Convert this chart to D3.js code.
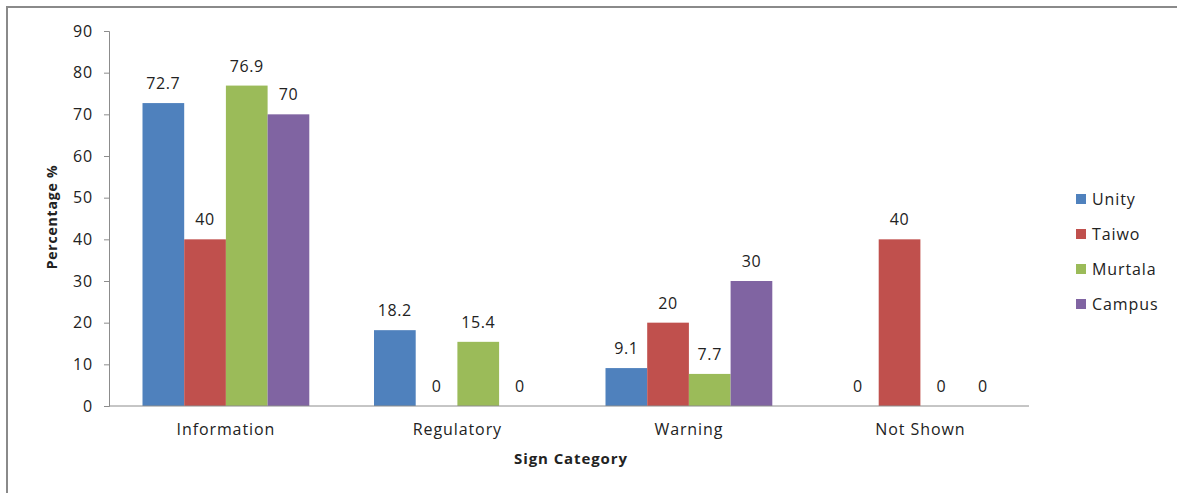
<!DOCTYPE html>
<html><head><meta charset="utf-8">
<script src="https://cdn.jsdelivr.net/npm/d3@7"></script>
<style>body{margin:0;background:#fff}svg{display:block}text{font-family:"Open Sans",sans-serif;fill:#222}</style>
</head><body><svg id="c" width="1177" height="493"></svg>
<script>
const categories = ["Information","Regulatory","Warning","Not Shown"];
const seriesNames = ["Unity","Taiwo","Murtala","Campus"];
const unity = [72.7, 18.2, 9.1, 0];
const taiwo = [40, 0, 20, 40];
const murtala = [76.9, 15.4, 7.7, 0];
const campus = [70, 0, 30, 0];
const yTicks = [0,10,20,30,40,50,60,70,80,90];
const colors = ["#4F81BD","#C0504D","#9BBB59","#8064A2"];
const values = [unity, taiwo, murtala, campus];

const svg = d3.select("#c");
svg.append("path").attr("d","M7,493 V7 H1177").attr("fill","none").attr("stroke","#8a8a8a").attr("stroke-width",2);

const x0 = 109, x1 = 1035, yTop = 31, yBot = 406;
const x = d3.scaleBand().domain(categories).range([x0, x1]).paddingInner(0).paddingOuter(0);
const xi = d3.scaleBand().domain(seriesNames).range([33.5, 33.5 + 4*41.7]);
const y = d3.scaleLinear().domain([0,90]).range([yBot, yTop]);

const ya = svg.append("g").attr("transform",`translate(${x0},0)`)
  .call(d3.axisLeft(y).tickValues(yTicks).tickSize(5).tickPadding(11));
ya.select(".domain").attr("stroke","#8c8c8c");
ya.selectAll(".tick line").attr("stroke","#8c8c8c");
ya.selectAll(".tick text").attr("font-size",16).attr("letter-spacing","0.9px").attr("fill","#222").attr("font-family","Open Sans");

const data = [];
categories.forEach((c,ci)=>seriesNames.forEach((s,si)=>data.push({c,s,v:values[si][ci],si})));
svg.append("g").selectAll("rect").data(data).join("rect")
  .attr("x",d=>x(d.c)+xi(d.s)).attr("width",xi.bandwidth())
  .attr("y",d=>y(d.v)).attr("height",d=>y(0)-y(d.v))
  .attr("fill",d=>colors[d.si]);

svg.append("line").attr("x1",x0).attr("x2",1029).attr("y1",yBot).attr("y2",yBot).attr("stroke","#8c8c8c");

svg.append("g").selectAll("text").data(data).join("text")
  .attr("x",d=>x(d.c)+xi(d.s)+xi.bandwidth()/2).attr("y",d=>y(d.v)-14)
  .attr("text-anchor","middle").attr("font-size",16).attr("letter-spacing","0.6px").text(d=>d.v);

svg.append("g").selectAll("text").data(categories).join("text")
  .attr("x",d=>x(d)+xi(seriesNames[1])+xi.bandwidth()).attr("y",435)
  .attr("text-anchor","middle").attr("font-size",16).attr("letter-spacing","0.9px").text(d=>d);

svg.append("text").attr("x",571).attr("y",464).attr("text-anchor","middle")
  .attr("font-size",15).attr("letter-spacing","0.9px").attr("font-weight","bold").text("Sign Category");
svg.append("text").attr("transform","translate(57,217) rotate(-90)").attr("text-anchor","middle")
  .attr("font-size",14).attr("letter-spacing","0.8px").attr("font-weight","bold").text("Percentage %");

const lg = svg.append("g").selectAll("g").data(seriesNames).join("g")
  .attr("transform",(d,i)=>`translate(1076,${199+i*35})`);
lg.append("rect").attr("x",0).attr("y",-5).attr("width",10).attr("height",10).attr("fill",(d,i)=>colors[i]);
lg.append("text").attr("x",16).attr("y",5.5).attr("font-size",16).attr("letter-spacing","0.9px").text(d=>d);
</script></body></html>
